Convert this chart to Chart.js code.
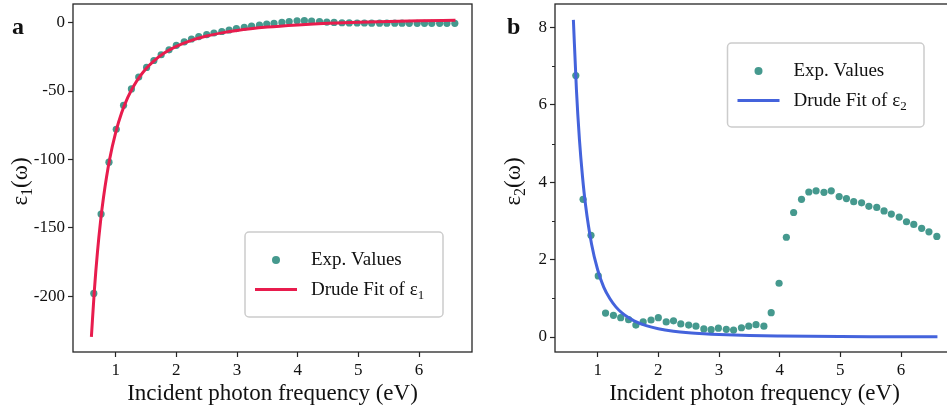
<!DOCTYPE html>
<html>
<head>
<meta charset="utf-8">
<script src="https://cdn.jsdelivr.net/npm/chart.js@4.4.0/dist/chart.umd.min.js"></script>
<style>
  html, body { margin: 0; padding: 0; background: #fff; overflow: hidden; }
  #wrap { position: relative; width: 947px; height: 412px; overflow: hidden; }
  canvas { position: absolute; top: 0; }
  #chartA { left: 0; }
  #chartB { left: 474px; }
</style>
</head>
<body>
<div id="wrap">
  <canvas id="chartA" width="480" height="412"></canvas>
  <canvas id="chartB" width="490" height="412"></canvas>
</div>
<script>
// photon energies of the measured points (eV)
const energy = [0.64, 0.76, 0.89, 1.01, 1.13, 1.26, 1.38, 1.51, 1.63, 1.75,
  1.88, 2.00, 2.13, 2.25, 2.37, 2.50, 2.62, 2.75, 2.87, 2.99,
  3.12, 3.24, 3.37, 3.49, 3.61, 3.74, 3.86, 3.99, 4.11, 4.23,
  4.36, 4.48, 4.60, 4.73, 4.85, 4.98, 5.10, 5.22, 5.35, 5.47,
  5.60, 5.72, 5.84, 5.97, 6.09, 6.21, 6.34, 6.46, 6.59];

// measured real part
const eps1Exp = [-198, -140, -102, -78, -60.5, -48.5, -39.8, -32.8, -27.7, -23.5,
  -19.9, -16.6, -14.1, -12.0, -10.2, -8.8, -7.6, -6.5, -5.4, -4.4,
  -3.4, -2.6, -1.9, -1.1, -0.5, 0.1, 0.8, 1.3, 1.4, 1.1,
  0.8, 0.4, 0.1, -0.1, -0.2, -0.3, -0.3, -0.4, -0.4, -0.4,
  -0.4, -0.4, -0.5, -0.5, -0.5, -0.5, -0.5, -0.5, -0.5];

// measured imaginary part
const eps2Exp = [6.76, 3.56, 2.63, 1.58, 0.62, 0.56, 0.50, 0.45, 0.31, 0.39,
  0.44, 0.50, 0.39, 0.42, 0.34, 0.31, 0.28, 0.21, 0.19, 0.23,
  0.20, 0.18, 0.24, 0.28, 0.32, 0.28, 0.63, 1.39, 2.58, 3.22,
  3.56, 3.75, 3.78, 3.74, 3.78, 3.63, 3.58, 3.50, 3.47, 3.38,
  3.35, 3.26, 3.18, 3.10, 2.98, 2.91, 2.81, 2.72, 2.60];

// Drude fit curves
const fitEnergy = [0.6, 0.65, 0.7, 0.75, 0.8, 0.9, 1.0, 1.1, 1.2, 1.3,
  1.4, 1.5, 1.6, 1.8, 2.0, 2.25, 2.5, 2.75, 3.0, 3.5,
  4.0, 4.5, 5.0, 5.5, 6.0, 6.6];
const eps1Fit = [-229.7, -195.2, -167.8, -145.7, -127.7, -100.1, -80.4, -65.8, -54.7, -46.1,
  -39.3, -33.7, -29.2, -22.3, -17.4, -13.0, -9.8, -7.5, -5.7, -3.3,
  -1.7, -0.5, 0.2, 0.8, 1.3, 1.7];
const eps2Fit = [8.2, 6.4, 5.1, 4.15, 3.42, 2.4, 1.74, 1.29, 0.995, 0.78,
  0.625, 0.51, 0.42, 0.295, 0.215, 0.151, 0.11, 0.083, 0.064, 0.040,
  0.027, 0.019, 0.014, 0.010, 0.008, 0.006];

const xTicks = [1, 2, 3, 4, 5, 6];
const eps1Ticks = [0, -50, -100, -150, -200];
const eps2Ticks = [0, 2, 4, 6, 8];
const eps2MinorTicks = [1, 3, 5, 7];

const SERIF = '"Liberation Serif", "Times New Roman", serif';
const TEAL = '#45998e';
const AXIS = '#262626';
const TEXT = '#111111';

// draws text where "_c" puts the character c in subscript
function drawRich(ctx, text, x, y, size, align) {
  const parts = [];
  for (let i = 0; i < text.length; i++) {
    if (text[i] === '_') {
      parts.push({ t: text[i + 1], sub: true });
      i++;
    } else if (parts.length && !parts[parts.length - 1].sub) {
      parts[parts.length - 1].t += text[i];
    } else {
      parts.push({ t: text[i], sub: false });
    }
  }
  const subSize = Math.round(size * 0.7);
  const fontOf = p => `${p.sub ? subSize : size}px ${SERIF}`;
  let width = 0;
  parts.forEach(p => {
    ctx.font = fontOf(p);
    p.w = ctx.measureText(p.t).width;
    width += p.w;
  });
  let cx = align === 'center' ? x - width / 2 : x;
  ctx.textAlign = 'left';
  ctx.textBaseline = 'alphabetic';
  parts.forEach(p => {
    ctx.font = fontOf(p);
    ctx.fillText(p.t, cx, p.sub ? y + size * 0.22 : y);
    cx += p.w;
  });
}

// frame, minor ticks, y title, panel letter and legend
const panelDecor = {
  id: 'panelDecor',
  afterDraw(chart, args, opts) {
    const { ctx, chartArea: a } = chart;
    ctx.save();

    ctx.strokeStyle = AXIS;
    ctx.lineWidth = 1.3;
    ctx.strokeRect(a.left, a.top, a.right - a.left, a.bottom - a.top);

    if (opts.minorTicks) {
      const y = chart.scales.y;
      ctx.lineWidth = 1;
      opts.minorTicks.forEach(v => {
        const py = Math.round(y.getPixelForValue(v)) + 0.5;
        ctx.beginPath();
        ctx.moveTo(a.left - 3, py);
        ctx.lineTo(a.left, py);
        ctx.stroke();
      });
    }

    ctx.fillStyle = TEXT;
    ctx.save();
    ctx.translate(opts.yTitleX, (a.top + a.bottom) / 2 + 3.5);
    ctx.rotate(-Math.PI / 2);
    drawRich(ctx, opts.yTitle, 0, 0, 23, 'center');
    ctx.restore();

    ctx.font = `bold 24px ${SERIF}`;
    ctx.textAlign = 'left';
    ctx.textBaseline = 'alphabetic';
    ctx.fillText(opts.letter, opts.letterX, 34);

    const b = opts.legendBox;
    ctx.beginPath();
    ctx.roundRect(b.x, b.y, b.w, b.h, 4);
    ctx.fillStyle = 'rgba(255,255,255,0.8)';
    ctx.fill();
    ctx.strokeStyle = '#cccccc';
    ctx.lineWidth = 1.5;
    ctx.stroke();
    chart.data.datasets.forEach((ds, i) => {
      const cy = b.y + 28 + i * 29.5;
      if (ds.showLine) {
        ctx.strokeStyle = ds.borderColor;
        ctx.lineWidth = 3;
        ctx.beginPath();
        ctx.moveTo(b.x + 10, cy);
        ctx.lineTo(b.x + 52, cy);
        ctx.stroke();
      } else {
        ctx.fillStyle = ds.pointBackgroundColor;
        ctx.beginPath();
        ctx.arc(b.x + 31, cy, 4, 0, Math.PI * 2);
        ctx.fill();
      }
      ctx.fillStyle = TEXT;
      drawRich(ctx, ds.label, b.x + 66, cy + 5, 19, 'left');
    });

    ctx.restore();
  }
};

function makePanel(canvasId, cfg) {
  const tickFont = { family: SERIF, size: 17 };
  return new Chart(document.getElementById(canvasId), {
    type: 'scatter',
    data: {
      datasets: [
        {
          label: 'Exp. Values',
          data: energy.map((e, i) => ({ x: e, y: cfg.exp[i] })),
          pointRadius: 3.6,
          pointBackgroundColor: TEAL,
          pointBorderWidth: 0,
          order: 2
        },
        {
          label: cfg.fitLabel,
          data: fitEnergy.map((e, i) => ({ x: e, y: cfg.fit[i] })),
          showLine: true,
          borderColor: cfg.fitColor,
          borderWidth: 3,
          pointRadius: 0,
          cubicInterpolationMode: 'monotone',
          order: 1
        }
      ]
    },
    options: {
      responsive: false,
      animation: false,
      devicePixelRatio: 1,
      layout: { padding: { left: 0, right: cfg.padRight, top: 3, bottom: 0 } },
      plugins: {
        legend: { display: false },
        tooltip: { enabled: false },
        panelDecor: cfg.decor
      },
      scales: {
        x: {
          type: 'linear',
          min: 0.297,
          max: 6.873,
          afterBuildTicks: s => { s.ticks = xTicks.map(v => ({ value: v })); },
          afterFit: s => { s.height = 60; s.paddingLeft = 0; s.paddingRight = 0; },
          grid: { drawOnChartArea: false, tickLength: 5, tickColor: AXIS, tickWidth: 1.2 },
          border: { display: false },
          ticks: { font: tickFont, color: TEXT, padding: 3, maxRotation: 0 },
          title: {
            display: true,
            text: 'Incident photon frequency (eV)',
            font: { family: SERIF, size: 23 },
            color: TEXT,
            padding: { top: 0, bottom: 4 }
          }
        },
        y: {
          type: 'linear',
          min: cfg.yMin,
          max: cfg.yMax,
          afterBuildTicks: s => { s.ticks = cfg.yTicks.map(v => ({ value: v })); },
          afterFit: s => { s.width = cfg.yWidth; s.paddingTop = 0; s.paddingBottom = 0; },
          grid: { drawOnChartArea: false, tickLength: 5, tickColor: AXIS, tickWidth: 1.2 },
          border: { display: false },
          ticks: { font: tickFont, color: TEXT, padding: 3, callback: v => String(v) }
        }
      }
    },
    plugins: [panelDecor]
  });
}

makePanel('chartA', {
  exp: eps1Exp,
  fit: eps1Fit,
  fitLabel: 'Drude Fit of ε_1',
  fitColor: '#e81c4d',
  yMin: -240.8,
  yMax: 13.6,
  yTicks: eps1Ticks,
  yWidth: 73,
  padRight: 8,
  decor: {
    letter: 'a', letterX: 12,
    yTitle: 'ε_1(ω)', yTitleX: 27,
    legendBox: { x: 245, y: 232, w: 198, h: 85 }
  }
});

makePanel('chartB', {
  exp: eps2Exp,
  fit: eps2Fit,
  fitLabel: 'Drude Fit of ε_2',
  fitColor: '#4463dc',
  yMin: -0.387,
  yMax: 8.61,
  yTicks: eps2Ticks,
  yWidth: 81,
  padRight: 10,
  decor: {
    letter: 'b', letterX: 33,
    yTitle: 'ε_2(ω)', yTitleX: 46,
    minorTicks: eps2MinorTicks,
    legendBox: { x: 253.5, y: 43, w: 196.5, h: 84 }
  }
});
</script>
</body>
</html>
